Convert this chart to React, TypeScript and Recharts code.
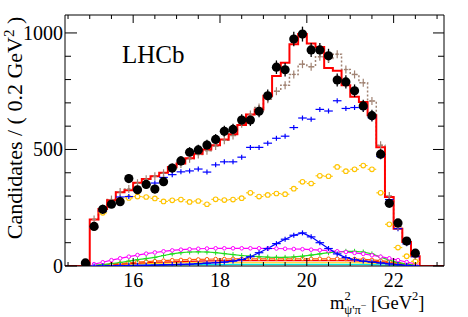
import { ComposedChart, Line, Scatter, XAxis, YAxis, ErrorBar } from 'recharts'

// data points (bin centres, 0.2 GeV^2 bins)
const binCenters = [
  14.9, 15.1, 15.3, 15.5, 15.7, 15.9, 16.1, 16.3, 16.5, 16.7, 16.9, 17.1, 17.3, 17.5, 17.7, 17.9,
  18.1, 18.3, 18.5, 18.7, 18.9, 19.1, 19.3, 19.5, 19.7, 19.9, 20.1, 20.3, 20.5, 20.7, 20.9, 21.1,
  21.3, 21.5, 21.7, 21.9, 22.1, 22.3, 22.5,
]
const candidates = [
  13, 170, 243, 265, 276, 375, 327, 350, 330, 362, 420, 451, 488, 498, 519, 543,
  578, 586, 626, 626, 664, 730, 853, 842, 974, 995, 927, 927, 902, 798, 790, 752,
  687, 645, 480, 269, 185, 107, 55,
]
const candErr = [
  4, 13, 16, 16, 17, 19, 18, 19, 18, 19, 20, 21, 22, 22, 23, 23,
  24, 24, 25, 25, 26, 27, 29, 29, 31, 32, 30, 30, 30, 28, 28, 27,
  26, 25, 22, 16, 14, 10, 7,
]

// fit components, bins 15.0 - 22.6
const fitCenters = [
  15.1, 15.3, 15.5, 15.7, 15.9, 16.1, 16.3, 16.5, 16.7, 16.9, 17.1, 17.3, 17.5, 17.7, 17.9,
  18.1, 18.3, 18.5, 18.7, 18.9, 19.1, 19.3, 19.5, 19.7, 19.9, 20.1, 20.3, 20.5, 20.7, 20.9, 21.1,
  21.3, 21.5, 21.7, 21.9, 22.1, 22.3, 22.5,
]
const totalFit = [
  200, 245, 282, 316, 325, 357, 373, 385, 400, 425, 440, 462, 482, 500, 518,
  543, 565, 605, 650, 672, 730, 815, 872, 952, 995, 955, 940, 850, 838, 776, 726,
  704, 647, 510, 296, 160, 103, 42,
]
const brownComp = [
  200, 248, 285, 318, 330, 355, 372, 385, 398, 420, 438, 460, 478, 495, 515,
  540, 560, 610, 650, 680, 715, 750, 776, 822, 866, 855, 898, 890, 909, 843, 822,
  786, 708, 518, 300, 170, 105, 45,
]
const blueComp = [
  165, 235, 262, 296, 298, 325, 350, 356, 380, 392, 404, 408, 416, 403, 434,
  447, 447, 467, 509, 509, 527, 548, 557, 594, 635, 630, 672, 665, 709, 676, 680,
  678, 636, 470, 285, 160, 95, 40,
]
const yellowComp = [
  165, 228, 262, 280, 292, 298, 296, 290, 277, 282, 285, 275, 279, 265, 286,
  283, 285, 291, 314, 298, 305, 311, 308, 332, 361, 354, 387, 385, 425, 407, 415,
  431, 415, 314, 179, 79, 42, 20,
]
const magentaComp = [
  8, 16, 25, 33, 40, 47, 53, 58, 63, 67, 70, 72, 74, 75, 76,
  76, 76, 76, 76, 76, 75, 75, 74, 73, 72, 70, 68, 66, 63, 60, 56,
  52, 46, 40, 33, 25, 17, 9,
]
const greenComp = [
  3, 6, 10, 15, 21, 27, 32, 37, 45, 52, 57, 60, 61, 60, 57,
  53, 49, 45, 42, 40, 38, 37, 37, 39, 42, 47, 52, 57, 60, 63, 63,
  60, 52, 38, 25, 15, 8, 3,
]
const orangeComp = [
  2, 5, 8, 11, 14, 17, 19, 21, 23, 25, 26, 27, 28, 29, 30,
  30, 31, 31, 31, 31, 31, 31, 31, 31, 31, 31, 31, 31, 31, 30, 30,
  28, 26, 23, 19, 14, 9, 4,
]
const redComp = [
  1, 4, 6, 8, 10, 12, 14, 16, 17, 18, 19, 20, 21, 22, 22,
  23, 23, 23, 23, 23, 23, 23, 23, 23, 23, 23, 23, 23, 23, 23, 22,
  21, 20, 18, 15, 11, 7, 3,
]
const yellowLow = [
  1, 3, 5, 6, 8, 9, 10, 11, 12, 13, 14, 14, 14, 14, 14,
  14, 14, 14, 14, 14, 14, 14, 14, 14, 14, 14, 14, 14, 14, 14, 14,
  13, 12, 11, 9, 7, 4, 2,
]
const cyanComp = [
  0, 1, 2, 2, 3, 3, 4, 4, 5, 5, 5, 6, 6, 6, 6,
  6, 7, 7, 7, 7, 7, 7, 7, 7, 7, 7, 7, 7, 7, 7, 7,
  7, 6, 5, 4, 3, 2, 1,
]
const blueLow = [
  0, 1, 1, 2, 2, 3, 3, 4, 5, 6, 7, 8, 10, 12, 14,
  17, 21, 28, 40, 57, 75, 96, 115, 132, 142, 125, 100, 75, 52, 36, 27,
  21, 17, 13, 9, 6, 3, 1,
]

const xTicks = [14.5, 15, 15.5, 16, 16.5, 17, 17.5, 18, 18.5, 19, 19.5, 20, 20.5, 21, 21.5, 22, 22.5, 23]
const xMajor = [16, 18, 20, 22]
const yTicks = [0, 100, 200, 300, 400, 500, 600, 700, 800, 900, 1000]
const yMajor = [0, 500, 1000]

const X_DOMAIN = [14.43, 23.16]
const Y_DOMAIN = [0, 1077]
const HALF_BIN = 0.1
const serifStyle = { fontFamily: "'Liberation Serif', serif" }

const pts = (xs: number[], ys: number[]) => xs.map((x, i) => ({ x, y: ys[i] }))
const dataPts = binCenters.map((x, i) => ({ x, y: candidates[i], e: candErr[i] }))
const lastEdge = fitCenters[fitCenters.length - 1] + HALF_BIN
const histPts = [
  { x: X_DOMAIN[0], y: 0 },
  ...fitCenters.map((c, i) => ({ x: c - HALF_BIN, y: totalFit[i] })),
  { x: lastEdge, y: 0 },
  { x: X_DOMAIN[1], y: 0 },
]

function BottomTick({ x, y, payload }: any) {
  const major = xMajor.includes(payload.value)
  return (
    <g>
      <line x1={x} x2={x} y1={y} y2={y - (major ? 8 : 4)} stroke="#000" />
      {major && (
        <text x={x} y={y + 21} textAnchor="middle" style={serifStyle} fontSize={20} fill="#000">
          {payload.value}
        </text>
      )}
    </g>
  )
}

function TopTick({ x, y, payload }: any) {
  const major = xMajor.includes(payload.value)
  return <line x1={x} x2={x} y1={y} y2={y + (major ? 8 : 4)} stroke="#000" />
}

function LeftTick({ x, y, payload }: any) {
  const major = yMajor.includes(payload.value)
  return (
    <g>
      <line x1={x} x2={x + (major ? 12 : 6)} y1={y} y2={y} stroke="#000" />
      {major && (
        <text x={x - 2} y={y} dy="0.35em" textAnchor="end" style={serifStyle} fontSize={20} fill="#000">
          {payload.value}
        </text>
      )}
    </g>
  )
}

function RightTick({ x, y, payload }: any) {
  const major = yMajor.includes(payload.value)
  return <line x1={x} x2={x - (major ? 11 : 6)} y1={y} y2={y} stroke="#000" />
}

const binCross = (color: string) => (p: any) => (
  <g key={p.index ?? `${p.cx}`} stroke={color} strokeWidth={1.2}>
    <line x1={p.cx - 4.3} x2={p.cx + 4.3} y1={p.cy} y2={p.cy} />
    <line x1={p.cx} x2={p.cx} y1={p.cy - 2.5} y2={p.cy + 2.5} />
  </g>
)

const binCircle = (color: string) => (p: any) => (
  <g key={p.index ?? `${p.cx}`} stroke={color} strokeWidth={1.1}>
    <line x1={p.cx - 4.3} x2={p.cx - 2.3} y1={p.cy} y2={p.cy} />
    <line x1={p.cx + 2.3} x2={p.cx + 4.3} y1={p.cy} y2={p.cy} />
    <circle cx={p.cx} cy={p.cy} r={2.3} fill="#fff" />
  </g>
)

const smallCircle = (color: string) => (p: any) => (
  <circle key={p.index} cx={p.cx} cy={p.cy} r={1.8} fill="#fff" stroke={color} strokeWidth={1} />
)

const smallCross = (color: string) => (p: any) => (
  <g key={p.index} stroke={color} strokeWidth={1}>
    <line x1={p.cx - 2.5} x2={p.cx + 2.5} y1={p.cy} y2={p.cy} />
    <line x1={p.cx} x2={p.cx} y1={p.cy - 2.5} y2={p.cy + 2.5} />
  </g>
)

const brownCross = (p: any) => (
  <g key={p.index} stroke="#a08272" strokeWidth={1.2}>
    <line x1={p.cx - 2} x2={p.cx + 2} y1={p.cy} y2={p.cy} />
    <line x1={p.cx} x2={p.cx} y1={p.cy - 4} y2={p.cy + 4} />
  </g>
)

const ax = { xAxisId: 'b', yAxisId: 'l' }

export default function App() {
  return (
    <div style={{ position: 'absolute', left: 0, top: 0, width: 468, height: 317, background: '#fff' }}>
      <ComposedChart width={468} height={317} margin={{ top: 14, right: 14, bottom: 21, left: 5 }}>
        <XAxis xAxisId="b" type="number" dataKey="x" domain={X_DOMAIN} allowDataOverflow ticks={xTicks}
          interval={0} height={30} tickSize={0} tickMargin={0} tickLine={false} tick={<BottomTick />}
          axisLine={{ stroke: '#000' }} />
        <XAxis xAxisId="t" orientation="top" type="number" dataKey="x" domain={X_DOMAIN} allowDataOverflow
          ticks={xTicks} interval={0} height={1} tickSize={0} tickMargin={0} tickLine={false} tick={<TopTick />}
          axisLine={{ stroke: '#000' }} />
        <YAxis yAxisId="l" type="number" domain={Y_DOMAIN} allowDataOverflow ticks={yTicks} interval={0}
          width={60} tickSize={0} tickMargin={0} tickLine={false} tick={<LeftTick />} axisLine={{ stroke: '#000' }} />
        <YAxis yAxisId="r" orientation="right" type="number" domain={Y_DOMAIN} allowDataOverflow ticks={yTicks}
          interval={0} width={10} tickSize={0} tickMargin={0} tickLine={false} tick={<RightTick />}
          axisLine={{ stroke: '#000' }} />

        <Scatter xAxisId="t" yAxisId="r" data={dataPts} dataKey="y" shape={() => <g />} isAnimationActive={false} />

        <Line {...ax} data={pts(fitCenters, cyanComp)} dataKey="y" stroke="#00e5e5" strokeWidth={1.2} dot={false} activeDot={false} isAnimationActive={false} />
        <Line {...ax} data={pts(fitCenters, yellowLow)} dataKey="y" stroke="#ffd500" strokeWidth={1.2} dot={false} activeDot={false} isAnimationActive={false} />
        <Line {...ax} data={pts(fitCenters, redComp)} dataKey="y" stroke="#ff0000" strokeWidth={1.2} dot={false} activeDot={false} isAnimationActive={false} />
        <Line {...ax} data={pts(fitCenters, orangeComp)} dataKey="y" stroke="#ff5a00" strokeWidth={1.2} dot={smallCircle('#ff5a00')} activeDot={false} isAnimationActive={false} />
        <Line {...ax} data={pts(fitCenters, greenComp)} dataKey="y" stroke="#22dd22" strokeWidth={1.2} dot={smallCross('#22dd22')} activeDot={false} isAnimationActive={false} />
        <Line {...ax} data={pts(fitCenters, magentaComp)} dataKey="y" stroke="#ff00ff" strokeWidth={1.2} dot={smallCircle('#ff00ff')} activeDot={false} isAnimationActive={false} />
        <Line {...ax} data={pts(fitCenters, blueLow)} dataKey="y" stroke="#0000ff" strokeWidth={1.2} dot={binCross('#0000ff')} activeDot={false} isAnimationActive={false} />

        <Scatter {...ax} data={pts(fitCenters, yellowComp)} dataKey="y" shape={binCircle('#ffc400')} isAnimationActive={false} />
        <Scatter {...ax} data={pts(fitCenters, blueComp)} dataKey="y" shape={binCross('#0000ff')} isAnimationActive={false} />

        <Line {...ax} data={pts(fitCenters, brownComp)} dataKey="y" type="step" stroke="#a08272" strokeWidth={1.5}
          strokeDasharray="2 2" dot={brownCross} activeDot={false} isAnimationActive={false} />
        <Line {...ax} data={histPts} dataKey="y" type="stepAfter" stroke="#ff0000" strokeWidth={2}
          dot={false} activeDot={false} isAnimationActive={false} />

        <Scatter {...ax} data={dataPts} dataKey="y" fill="#000" isAnimationActive={false}
          shape={(p: any) => <circle cx={p.cx} cy={p.cy} r={4.6} fill="#000" />}>
          <ErrorBar dataKey="e" direction="y" width={0} stroke="#000" strokeWidth={1.3} />
        </Scatter>
      </ComposedChart>

      <svg width={468} height={317} style={{ position: 'absolute', left: 0, top: 0, pointerEvents: 'none', ...serifStyle }}>
        <text x={122} y={63} style={serifStyle} fontSize={25} fill="#000">LHCb</text>
        <text transform="translate(22,128) rotate(-90)" textAnchor="middle" style={serifStyle} fontSize={22} fill="#000">
          Candidates / ( 0.2 GeV<tspan dy={-8} fontSize={15}>2</tspan><tspan dy={8}> )</tspan>
        </text>
        <text x={330} y={308.5} style={serifStyle} fontSize={18.5} fill="#000">
          m<tspan fontSize={12.5} dy={-9}>2</tspan>
          <tspan fontSize={12.5} dx={-6.3} dy={14}>ψ'π</tspan>
          <tspan fontSize={10} dy={-5}>−</tspan>
          <tspan dy={0}> [GeV</tspan>
          <tspan fontSize={12.5} dy={-9}>2</tspan>
          <tspan dy={9}>]</tspan>
        </text>
      </svg>
    </div>
  )
}
